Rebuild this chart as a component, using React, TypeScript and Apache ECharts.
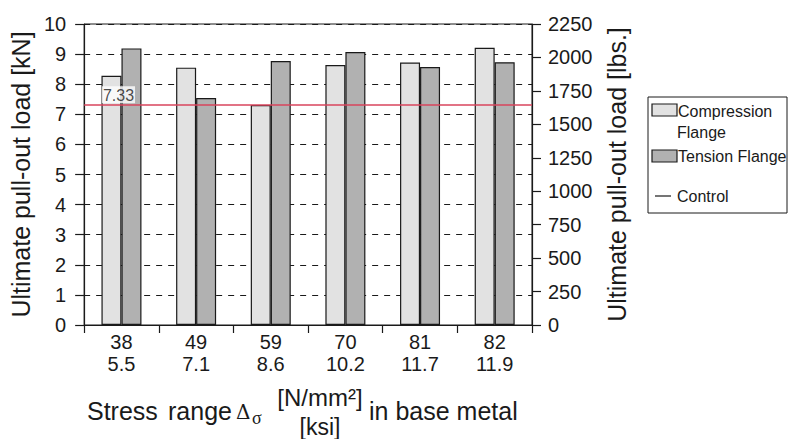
import React, { useEffect, useRef } from "react";
import * as echarts from "echarts";

const stressNmm = ["38", "49", "59", "70", "81", "82"];
const stressKsi = ["5.5", "7.1", "8.6", "10.2", "11.7", "11.9"];
const compressionFlange = [8.28, 8.55, 7.31, 8.64, 8.72, 9.21];
const tensionFlange = [9.19, 7.54, 8.77, 9.07, 8.57, 8.73];
const controlValue = 7.33;
const kNTicks = { min: 0, max: 10, interval: 1 };
const lbsTicks = { min: 0, max: 2250, interval: 250 };

const FONT = "'Liberation Sans', Arial, Helvetica, sans-serif";
const INK = "#1a1a1a";

export default function App() {
  const ref = useRef<HTMLDivElement>(null);
  useEffect(() => {
    if (!ref.current) return;
    const chart = echarts.init(ref.current, undefined, { renderer: "svg" });
    const categories = stressNmm.map((v, i) => `${v}\n${stressKsi[i]}`);
    const option: any = {
      animation: false,
      backgroundColor: "#fff",
      textStyle: { fontFamily: FONT, color: INK },
      grid: {
        left: 79,
        right: 265,
        top: 24,
        bottom: 114,
        show: true,
        borderColor: INK,
        borderWidth: 1,
        backgroundColor: "transparent",
      },
      xAxis: {
        type: "category",
        data: categories,
        boundaryGap: true,
        axisLine: { show: true, lineStyle: { color: INK, width: 1.2 } },
        axisTick: { show: true, length: 8, interval: 0, lineStyle: { color: INK, width: 1.2 } },
        axisLabel: { fontSize: 20, color: INK, lineHeight: 22, margin: 6, fontFamily: FONT },
        splitLine: { show: false },
      },
      yAxis: [
        {
          type: "value",
          position: "left",
          min: kNTicks.min,
          max: kNTicks.max,
          interval: kNTicks.interval,
          name: "Ultimate pull-out load [kN]",
          nameLocation: "middle",
          nameGap: 42,
          nameTextStyle: { fontSize: 25, color: INK, fontFamily: FONT },
          axisLine: { show: true, lineStyle: { color: INK, width: 1.2 } },
          axisTick: { show: true, length: 9, lineStyle: { color: INK, width: 1.2 } },
          axisLabel: { fontSize: 20, color: INK, margin: 18, fontFamily: FONT, formatter: (v: number) => String(v) },
          splitLine: { show: true, lineStyle: { color: INK, type: [6, 6], width: 1 } },
        },
        {
          type: "value",
          position: "right",
          min: lbsTicks.min,
          max: lbsTicks.max,
          interval: lbsTicks.interval,
          name: "Ultimate pull-out load [lbs.]",
          nameLocation: "middle",
          nameGap: 72,
          nameRotate: 90,
          nameTextStyle: { fontSize: 25, color: INK, fontFamily: FONT },
          axisLine: { show: true, lineStyle: { color: INK, width: 1.2 } },
          axisTick: { show: true, length: 9, lineStyle: { color: INK, width: 1.2 } },
          axisLabel: { fontSize: 20, color: INK, margin: 16, fontFamily: FONT, formatter: (v: number) => String(v) },
          splitLine: { show: false },
        },
      ],
      series: [
        {
          name: "Compression Flange",
          type: "bar",
          data: compressionFlange,
          barWidth: 20,
          barGap: "0%",
          itemStyle: { color: "#e2e2e2", borderColor: INK, borderWidth: 1.2 },
        },
        {
          name: "Tension Flange",
          type: "bar",
          data: tensionFlange,
          barWidth: 20,
          barGap: "0%",
          itemStyle: { color: "#b1b1b1", borderColor: INK, borderWidth: 1.2 },
        },
        {
          name: "Control",
          type: "scatter",
          data: [[0, controlValue]],
          symbolSize: 0,
          z: 5,
          label: {
            show: true,
            position: "top",
            distance: 1,
            offset: [-3, 0],
            formatter: () => controlValue.toFixed(2),
            fontSize: 16,
            color: INK,
            backgroundColor: "#fff",
            padding: [1, 1, 0, 1],
            fontFamily: FONT,
          },
          markLine: {
            silent: true,
            symbol: "none",
            label: { show: false },
            lineStyle: { color: "#d8455c", width: 1.6, type: "solid" },
            data: [{ yAxis: controlValue }],
          },
        },
      ],
      graphic: [
        // legend
        { type: "rect", shape: { x: 648, y: 97, width: 139, height: 116 }, style: { fill: "#fff", stroke: INK, lineWidth: 1 } },
        { type: "rect", shape: { x: 652, y: 104, width: 25, height: 12 }, style: { fill: "#e2e2e2", stroke: INK, lineWidth: 1.2 } },
        { type: "text", x: 678, y: 111, style: { text: "Compression", font: `16px ${FONT}`, fill: INK, textVerticalAlign: "middle" } },
        { type: "text", x: 677, y: 132, style: { text: "Flange", font: `16px ${FONT}`, fill: INK, textVerticalAlign: "middle" } },
        { type: "rect", shape: { x: 652, y: 150, width: 25, height: 12 }, style: { fill: "#b1b1b1", stroke: INK, lineWidth: 1.2 } },
        { type: "text", x: 678, y: 156, style: { text: "Tension Flange", font: `16px ${FONT}`, fill: INK, textVerticalAlign: "middle" } },
        { type: "line", shape: { x1: 655, y1: 196, x2: 671, y2: 196 }, style: { stroke: INK, lineWidth: 1.2 } },
        { type: "text", x: 677, y: 196, style: { text: "Control", font: `16px ${FONT}`, fill: INK, textVerticalAlign: "middle" } },
        // x axis title
        { type: "text", x: 87, y: 411, style: { text: "Stress", font: `25px ${FONT}`, fill: INK, textVerticalAlign: "middle" } },
        { type: "text", x: 168, y: 411, style: { text: "range", font: `25px ${FONT}`, fill: INK, textVerticalAlign: "middle" } },
        { type: "text", x: 236, y: 412, style: { text: "Δ", font: `20px 'DejaVu Serif', 'Liberation Serif', serif`, fill: INK, textVerticalAlign: "middle" } },
        { type: "text", x: 252, y: 418, style: { text: "σ", font: `18px 'Liberation Serif', serif`, fill: INK, textVerticalAlign: "middle" } },
        { type: "text", x: 320, y: 397, style: { text: "[N/mm²]", font: `24px ${FONT}`, fill: INK, textAlign: "center", textVerticalAlign: "middle" } },
        { type: "text", x: 320, y: 427, style: { text: "[ksi]", font: `23px ${FONT}`, fill: INK, textAlign: "center", textVerticalAlign: "middle" } },
        { type: "text", x: 369, y: 411, style: { text: "in base metal", font: `25px ${FONT}`, fill: INK, textVerticalAlign: "middle" } },
      ],
    };
    chart.setOption(option);
    return () => chart.dispose();
  }, []);
  return <div ref={ref} style={{ width: 797, height: 439, position: "absolute", left: 0, top: 0 }} />;
}
